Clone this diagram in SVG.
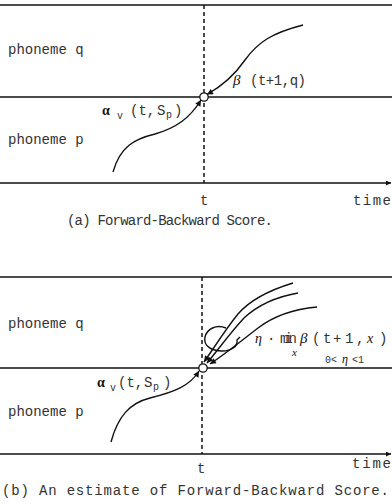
<svg xmlns="http://www.w3.org/2000/svg" width="392" height="504" viewBox="0 0 392 504">
<style>
.ln{stroke:#111;stroke-width:1.3;fill:none}
.dash{stroke:#111;stroke-width:1.5;stroke-dasharray:4,3;fill:none}
.cv{stroke:#111;stroke-width:1.4;fill:none}
.t{font-family:"Liberation Mono",monospace;font-size:14px;fill:#333}
.g{font-family:"Liberation Serif",serif;font-style:italic;fill:#111}
.ga{font-family:"Liberation Serif",serif;font-weight:bold;fill:#111}
.s{font-family:"Liberation Mono",monospace;font-size:10px;fill:#333}
</style>
<defs>
<marker id="ah" viewBox="0 0 10 10" refX="10" refY="5" markerWidth="7" markerHeight="6" orient="auto" markerUnits="userSpaceOnUse">
<path d="M0,0L10,5L0,10z" fill="#111"/>
</marker>
<marker id="ax" viewBox="0 0 10 10" refX="10" refY="5" markerWidth="8" markerHeight="5" orient="auto" markerUnits="userSpaceOnUse">
<path d="M0,0L10,5L0,10z" fill="#111"/>
</marker>
</defs>

<!-- Panel (a) -->
<g id="panelA-lines">
<line class="ln" x1="0" y1="5" x2="392" y2="5"/>
<line class="ln" x1="0" y1="97" x2="392" y2="97"/>
<line class="ln" x1="0" y1="183" x2="391" y2="183" marker-end="url(#ax)"/>
<line class="dash" x1="204" y1="5" x2="204" y2="183"/>
</g>
<g id="connectorsA">
<path class="cv" d="M303,25 C272,33 258,42 245,60 C234,76 222,86 207,94.5" marker-end="url(#ah)"/>
<path class="cv" d="M113,172 C120,147 134,139 155,134 C176,128 190,118 201,100" marker-end="url(#ah)"/>
</g>
<g id="nodeA-point"><circle cx="204" cy="97" r="4.2" fill="#fff" stroke="#111" stroke-width="1.3"/></g>
<g id="labelA-q"><text class="t" x="8" y="54">phoneme q</text></g>
<g id="labelA-p"><text class="t" x="8" y="144">phoneme p</text></g>
<g id="labelA-beta"><text y="85"><tspan class="g" x="233" font-size="15">β</tspan><tspan class="t" x="250" textLength="56" font-size="13">(t+1,q)</tspan></text></g>
<g id="labelA-alpha"><text y="115"><tspan class="ga" x="102" font-size="14">α</tspan><tspan class="s" x="117" dy="4">v</tspan><tspan class="t" x="130" dy="-4" font-size="13">(t,</tspan><tspan class="t" x="157" font-size="13">S</tspan><tspan class="s" x="166" dy="3">p</tspan><tspan class="t" x="174" dy="-3" font-size="13">)</tspan></text></g>
<g id="labelA-t"><text class="t" x="200" y="205">t</text></g>
<g id="labelA-time"><text class="t" x="353" y="205" textLength="38">time</text></g>
<g id="captionA"><text class="t" x="67" y="225" font-size="13" textLength="206">(a) Forward-Backward Score.</text></g>

<!-- Panel (b) -->
<g id="panelB-lines">
<line class="ln" x1="0" y1="277" x2="392" y2="277"/>
<line class="ln" x1="0" y1="368" x2="392" y2="368"/>
<line class="ln" x1="0" y1="454" x2="391" y2="454" marker-end="url(#ax)"/>
<line class="dash" x1="202" y1="277" x2="202" y2="454"/>
</g>
<g id="connectorsB">
<path class="cv" d="M293,283 C270,290 250,300 238,314 C225,330 214,348 204,362" marker-end="url(#ah)"/>
<path class="cv" d="M298,293 C275,297 258,305 244,318 C230,333 218,350 207,363" marker-end="url(#ah)"/>
<path class="cv" d="M317,307 C295,309 275,315 258,328 C240,342 224,355 210,364" marker-end="url(#ah)"/>
<path class="cv" d="M111,442 C118,416 130,403 150,398 C174,392 190,386 199,371" marker-end="url(#ah)"/>
<path class="cv" d="M226,328 C216,324 207,329 205,337 C203,346 212,351 222,351 C232,351 238,346 237,340 L240,337"/>
</g>
<g id="nodeB-point"><circle cx="203" cy="368" r="4.2" fill="#fff" stroke="#111" stroke-width="1.3"/></g>
<g id="labelB-q"><text class="t" x="8" y="328">phoneme q</text></g>
<g id="labelB-p"><text class="t" x="8" y="416">phoneme p</text></g>
<g id="labelB-eta">
<text class="g" x="255" y="343" font-size="14">η</text>
<text class="t" x="267" y="343" font-size="12">·</text>
<text class="t" x="280" y="343" font-size="11" textLength="17">min</text>
<text class="g" x="300" y="343" font-size="15">β</text>
<text class="t" y="343" font-size="13" x="312 323 333 345 356">(t+1,</text>
<text class="g" x="367" y="343" font-size="14">x</text>
<text class="t" x="379" y="343" font-size="13">)</text>
<text class="g" x="292" y="356" font-size="11">x</text>
</g>
<g id="labelB-range"><text y="363"><tspan class="s" x="325" font-size="11">0&lt;</tspan><tspan class="g" x="342" font-size="12">η</tspan><tspan class="s" x="352" font-size="11">&lt;1</tspan></text></g>
<g id="labelB-alpha"><text y="387"><tspan class="ga" x="97" font-size="14">α</tspan><tspan class="s" x="110" dy="4">v</tspan><tspan class="t" x="118" dy="-4" font-size="13">(t,</tspan><tspan class="t" x="144" font-size="13">S</tspan><tspan class="s" x="153" dy="3">p</tspan><tspan class="t" x="163" dy="-3" font-size="13">)</tspan></text></g>
<g id="labelB-t"><text class="t" x="197" y="473">t</text></g>
<g id="labelB-time"><text class="t" x="352" y="468" textLength="39">time</text></g>
<g id="captionB"><text class="t" x="2" y="495" font-size="15" textLength="387">(b) An estimate of Forward-Backward Score.</text></g>
</svg>
